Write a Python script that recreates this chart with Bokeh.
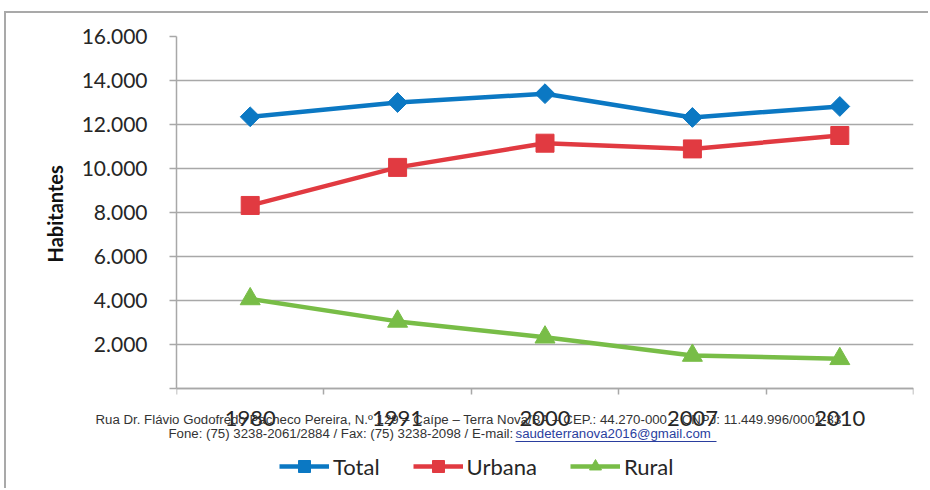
import math
from bokeh.plotting import figure
from bokeh.models import Range1d, FixedTicker, Legend, LegendItem, Label, Arrow, Title
from bokeh.embed import file_html
from bokeh.resources import INLINE

# ---- data ----
years = ["1980", "1991", "2000", "2007", "2010"]
total = [12350, 13000, 13400, 12320, 12820]
urbana = [8320, 10050, 11150, 10890, 11500]
rural = [4070, 3050, 2330, 1500, 1350]
series_names = ["Total", "Urbana", "Rural"]
y_ticks = [0, 2000, 4000, 6000, 8000, 10000, 12000, 14000, 16000]
y_tick_labels = ["", "2.000", "4.000", "6.000", "8.000", "10.000", "12.000", "14.000", "16.000"]
y_label = "Habitantes"
footer_line1 = "Rua Dr. Flávio Godofredo Pacheco Pereira, N.º 129 – Caípe – Terra Nova/BA – CEP.: 44.270-000 – CNPJ: 11.449.996/0001-33"
footer_line2 = "Fone: (75) 3238-2061/2884 / Fax: (75) 3238-2098 / E-mail: "
footer_email = "saudeterranova2016@gmail.com"

BLUE = "#0b78c3"
RED = "#e13a41"
GREEN = "#78bd47"
GRID = "#a8a8a8"
TXT = "#262626"
BORDER = "#a9a9a9"

xs = [i + 0.5 for i in range(len(years))]

# plot area: 352 px for the data; 100 px of the frame below y=0 hold footer + legend
ymax = y_ticks[-1]
ymin = -ymax * 100 / 352

p = figure(width=928, height=488,
           x_range=Range1d(0, len(years)), y_range=Range1d(ymin, ymax),
           output_backend="svg", toolbar_location=None,
           min_border_left=176, min_border_right=15,
           min_border_top=36, min_border_bottom=0)
p.outline_line_color = None
p.background_fill_color = "white"
p.border_fill_alpha = 0
# outer chart border (top and left edges of the original chart box)
p.styles = {
    "background-color": "white",
    "background-image": f"linear-gradient({BORDER},{BORDER}), linear-gradient({BORDER},{BORDER})",
    "background-size": "925px 2px, 2px 480px",
    "background-position": "5px 11px, 4px 11px",
    "background-repeat": "no-repeat",
}

# y axis
p.yaxis.ticker = FixedTicker(ticks=y_ticks)
p.yaxis.bounds = (0, ymax)
p.yaxis.major_label_overrides = {t: l for t, l in zip(y_ticks, y_tick_labels)}
p.yaxis.axis_line_color = GRID
p.yaxis.axis_line_width = 1.5
p.yaxis.major_tick_line_color = GRID
p.yaxis.major_tick_line_width = 1.5
p.yaxis.major_tick_in = 0
p.yaxis.major_tick_out = 7
p.yaxis.minor_tick_line_color = None
p.yaxis.major_label_standoff = 22
p.yaxis.major_label_text_font = "Lato"
p.yaxis.major_label_text_font_size = "21px"
p.yaxis.major_label_text_color = TXT

# y axis title, placed along the 0..16000 span
p.add_layout(Title(text=y_label, align="left", offset=226, standoff=24,
                   text_font="Lato", text_font_size="20px", text_font_style="bold",
                   text_color="#111111"), "left")

# x axis (sits at y = 0)
p.xaxis.fixed_location = 0
p.xaxis.ticker = FixedTicker(ticks=xs, minor_ticks=list(range(len(years) + 1)))
p.xaxis.major_label_overrides = {x: y for x, y in zip(xs, years)}
p.xaxis.axis_line_color = GRID
p.xaxis.axis_line_width = 1.5
p.xaxis.major_tick_line_color = None
p.xaxis.major_tick_out = 0
p.xaxis.major_tick_in = 0
p.xaxis.minor_tick_line_color = GRID
p.xaxis.minor_tick_line_width = 1.5
p.xaxis.minor_tick_in = 0
p.xaxis.minor_tick_out = 6
p.xaxis.major_label_standoff = 16
p.xaxis.major_label_text_font = "Lato"
p.xaxis.major_label_text_font_size = "22px"
p.xaxis.major_label_text_color = TXT

p.xgrid.visible = False
p.ygrid.ticker = FixedTicker(ticks=y_ticks)
p.ygrid.grid_line_color = GRID
p.ygrid.grid_line_width = 1.5

# series
lt = p.line(xs, total, line_color=BLUE, line_width=4.5)
mt = p.scatter(xs, total, marker="square", angle=math.pi / 4, size=14, color=BLUE)
lu = p.line(xs, urbana, line_color=RED, line_width=4.5)
mu = p.scatter(xs, urbana, marker="square", size=18, color=RED)
lr = p.line(xs, rural, line_color=GREEN, line_width=4.5)
mr = p.scatter(xs, rural, marker="triangle", size=20, color=GREEN)

# footer lines that start left of the plot area: side panels above (not clipped)
p.add_layout(Label(x=-81, y=-383, x_units="screen", y_units="screen", text=footer_line1,
                   text_font="Liberation Sans", text_font_size="13.25px",
                   text_color="#333333", text_baseline="middle"), "above")
p.add_layout(Label(x=-8, y=-412, x_units="screen", y_units="screen", text=footer_line2,
                   text_font="Liberation Sans", text_font_size="13.25px",
                   text_color="#333333", text_baseline="middle"), "above")

# e-mail (inside plot frame region)
p.add_layout(Label(x=339, y=55, x_units="screen", y_units="screen", text=footer_email,
                   text_font="Liberation Sans", text_font_size="13.25px",
                   text_color="#2a3e9e", text_baseline="middle"))
p.add_layout(Arrow(x_start=339, y_start=47, x_end=540, y_end=47,
                   start_units="screen", end_units="screen", start=None, end=None,
                   line_color="#2a3e9e", line_width=1.2))

legend = Legend(items=[LegendItem(label=series_names[0], renderers=[lt, mt]),
                       LegendItem(label=series_names[1], renderers=[lu, mu]),
                       LegendItem(label=series_names[2], renderers=[lr, mr])],
                orientation="horizontal", location=(103, 7),
                glyph_width=50, glyph_height=30, label_standoff=4, spacing=33,
                padding=0, margin=0, border_line_color=None,
                background_fill_alpha=0,
                label_text_font="Lato", label_text_font_size="22px",
                label_text_color=TXT)
p.add_layout(legend)

open("out.html", "w").write(file_html(p, INLINE))
